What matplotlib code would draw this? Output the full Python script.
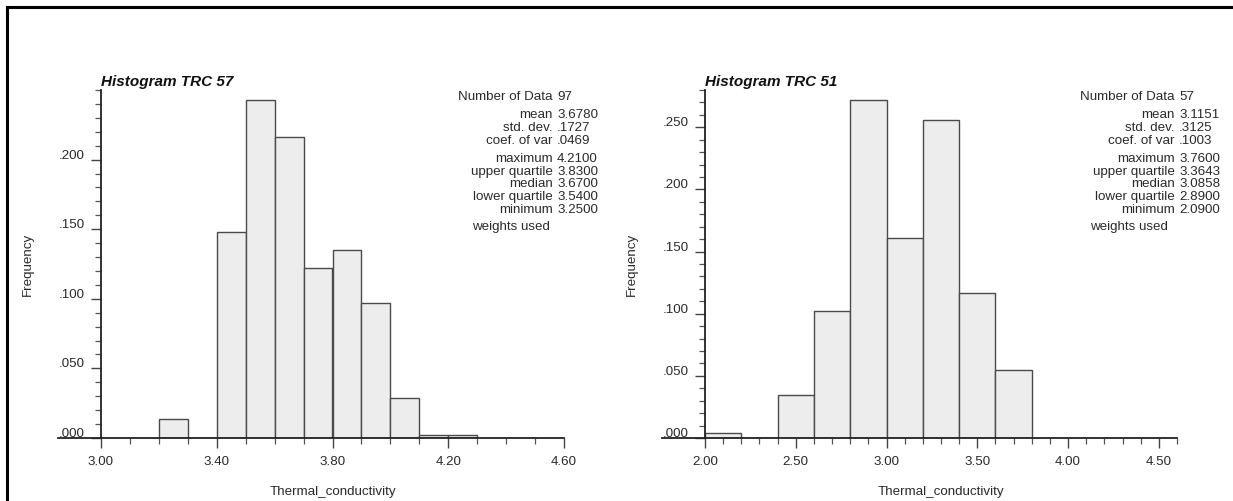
import matplotlib
matplotlib.use("Agg")
import matplotlib.pyplot as plt
from matplotlib.lines import Line2D
from matplotlib.transforms import ScaledTranslation
from matplotlib.ticker import MultipleLocator, FixedLocator, FuncFormatter, NullFormatter

plt.rcParams['font.family'] = ['Liberation Sans', 'DejaVu Sans']

# ---- data -------------------------------------------------------------
trc57_edges = [3.2, 3.3, 3.4, 3.5, 3.6, 3.7, 3.8, 3.9, 4.0, 4.1, 4.2, 4.3]
trc57_freq = [0.0137, 0.0, 0.148, 0.243, 0.2165, 0.122, 0.135, 0.097, 0.029, 0.002, 0.002]
trc57_xticks = [3.00, 3.40, 3.80, 4.20, 4.60]
trc57_yticks = [0.000, 0.050, 0.100, 0.150, 0.200]

trc51_edges = [2.0, 2.2, 2.4, 2.6, 2.8, 3.0, 3.2, 3.4, 3.6, 3.8]
trc51_freq = [0.004, 0.0, 0.035, 0.102, 0.272, 0.161, 0.256, 0.117, 0.055]
trc51_xticks = [2.00, 2.50, 3.00, 3.50, 4.00, 4.50]
trc51_yticks = [0.000, 0.050, 0.100, 0.150, 0.200, 0.250]

stat_names = ["Number of Data", "mean", "std. dev.", "coef. of var",
              "maximum", "upper quartile", "median", "lower quartile", "minimum"]
trc57_stats = ["97", "3.6780", ".1727", ".0469", "4.2100", "3.8300", "3.6700", "3.5400", "3.2500"]
trc51_stats = ["57", "3.1151", ".3125", ".1003", "3.7600", "3.3643", "3.0858", "2.8900", "2.0900"]

W, H = 1233, 501
fig = plt.figure(figsize=(W / 100, H / 100), dpi=100)
fig.patch.set_facecolor('white')

TXT = '#2a2a2a'
FS = 9.6

# frame lines along the top and left edges
fig.add_artist(Line2D([7 / W, 7 / W], [0, 1 - 7 / H], color='black', lw=2.2))
fig.add_artist(Line2D([7 / W, 1], [1 - 7 / H, 1 - 7 / H], color='black', lw=2.2))

row_px = [97, 115, 128, 141, 159, 172, 184, 197, 210]
weights_px = 227


def ytick_text(v):
    return f"{v:.3f}".lstrip('0')


def draw_hist(x0_px, x1_px, edges, freq, xlim, ymax, xticks, yticks, title, stats,
              lab_right_px, val_left_px, weights_right_px):
    top_px, base_px = 90, 438
    ax = fig.add_axes([x0_px / W, 1 - base_px / H, (x1_px - x0_px) / W,
                       (base_px - top_px) / H])
    widths = [edges[i + 1] - edges[i] for i in range(len(freq))]
    ax.bar(edges[:-1], freq, width=widths, align='edge',
           facecolor='#ededed', edgecolor='#4a4a4a', linewidth=1.0, zorder=2)
    for s in ('top', 'right'):
        ax.spines[s].set_visible(False)
    for s in ('left', 'bottom'):
        ax.spines[s].set_color('#222222')
        ax.spines[s].set_linewidth(1.3)
    ax.xaxis.set_major_locator(FixedLocator(xticks))
    ax.xaxis.set_minor_locator(MultipleLocator(0.1))
    ax.yaxis.set_major_locator(FixedLocator(yticks))
    ax.yaxis.set_minor_locator(MultipleLocator(0.01))
    ax.xaxis.set_major_formatter(FuncFormatter(lambda v, p: f"{v:.2f}"))
    ax.yaxis.set_major_formatter(NullFormatter())
    ax.set_xlim(*xlim)
    ax.set_ylim(0, ymax)
    ax.tick_params(axis='both', which='major', length=7, width=1.0,
                   color='#444444', labelsize=FS, labelcolor=TXT, direction='out')
    ax.tick_params(axis='both', which='minor', length=4, width=0.9,
                   color='#555555', direction='out')
    ax.tick_params(axis='x', which='major', pad=6)

    # y labels sit just above their tick marks
    ylab_tr = ax.get_yaxis_transform() + ScaledTranslation(-16 / 100, 1 / 100,
                                                           fig.dpi_scale_trans)
    for v in yticks:
        ax.text(0, v, ytick_text(v), transform=ylab_tr, ha='right', va='baseline',
                fontsize=FS, color=TXT, clip_on=False)

    # axis line runs a little to the left of the y axis
    ext = 43 / (x1_px - x0_px)
    ax.add_artist(Line2D([-ext, 0], [0, 0], transform=ax.transAxes,
                         color='#222222', lw=1.3, clip_on=False))

    ax.set_ylabel("Frequency", fontsize=FS, color=TXT)
    ax.yaxis.set_label_coords(-67 / (x1_px - x0_px), 0.5)
    ax.text(0.5, -(492 - base_px) / (base_px - top_px), "Thermal_conductivity",
            transform=ax.transAxes, ha='center', va='center', fontsize=FS, color=TXT)
    ax.text(0.0, (base_px - 82) / (base_px - top_px), title, transform=ax.transAxes,
            ha='left', va='center', fontsize=11, fontweight='bold',
            fontstyle='italic', color='#111111')

    for name, val, y in zip(stat_names, stats, row_px):
        fig.text(lab_right_px / W, 1 - y / H, name, ha='right', va='center',
                 fontsize=FS, color=TXT)
        fig.text(val_left_px / W, 1 - y / H, val, ha='left', va='center',
                 fontsize=FS, color=TXT)
    fig.text(weights_right_px / W, 1 - weights_px / H, "weights used", ha='right',
             va='center', fontsize=FS, color=TXT)
    return ax


draw_hist(101, 564, trc57_edges, trc57_freq, (3.0, 4.6), 0.25,
          trc57_xticks, trc57_yticks, "Histogram TRC 57", trc57_stats, 553, 557, 550)
draw_hist(705, 1177, trc51_edges, trc51_freq, (2.0, 4.6), 0.28,
          trc51_xticks, trc51_yticks, "Histogram TRC 51", trc51_stats, 1175, 1179, 1168)

fig.savefig("out.png", dpi=100, facecolor='white')
